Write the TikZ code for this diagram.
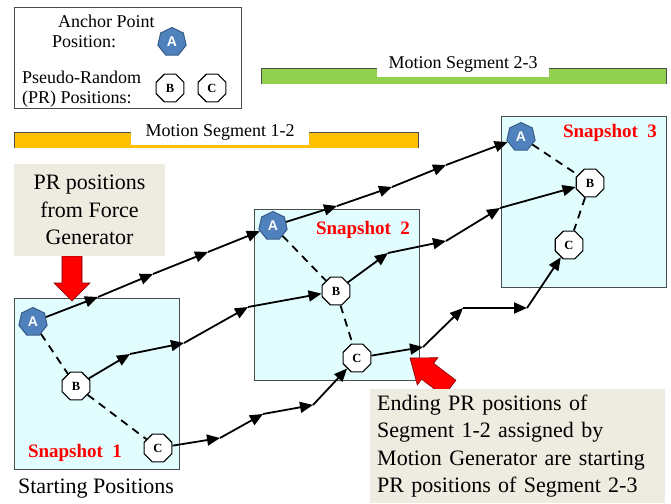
\documentclass[tikz,border=0pt]{standalone}
\usepackage{fontspec}
\setmainfont{Liberation Serif}
\setsansfont{Liberation Sans}
\definecolor{anchorblue}{HTML}{4F81BD}
\definecolor{anchorline}{HTML}{385D8A}
\definecolor{snapfill}{HTML}{E1FDFD}
\definecolor{calloutfill}{HTML}{EEECE1}
\definecolor{segorange}{HTML}{FFC000}
\definecolor{seggreen}{HTML}{92D050}
\definecolor{blockred}{HTML}{FF0000}
\usetikzlibrary{shapes.geometric, arrows.meta, positioning}
\tikzset{
	anchornode/.style={
			regular polygon,
			regular polygon sides=7,
			draw=anchorline,
			fill=anchorblue,
			line width=1pt,
			minimum size=29pt,
			inner sep=0pt,
			text=white,
			font=\fontsize{14}{14}\sffamily\bfseries
		},
	prnode/.style={
			regular polygon,
			regular polygon sides=8,
			draw=black,
			fill=white,
			line width=1.2pt,
			minimum size=30pt,
			inner sep=0pt,
			font=\fontsize{12.5}{12.5}\selectfont\bfseries
		},
	snapbox/.style={
			shape=rectangle,
			draw=black!70,
			fill=snapfill,
			line width=0.8pt,
			minimum width=165pt,
			minimum height=171pt,
			inner sep=0pt
		},
	calloutbox/.style={
			shape=rectangle,
			fill=calloutfill,
			inner sep=0pt,
			font=\fontsize{22}{27.5}\selectfont
		}
}
\tikzset{
	flow/.style={line width=1.8pt, -{Triangle[length=13pt,width=11pt]}},
	link/.style={line width=1.8pt, dash pattern=on 8pt off 6pt},
	snaplabel/.style={text=blockred, font=\fontsize{19}{19}\selectfont\bfseries},
	legendtext/.style={anchor=base west, inner sep=0pt, font=\fontsize{18}{20}\selectfont},
	seglabel/.style={fill=white, inner sep=0pt, minimum height=26pt, font=\fontsize{18}{18}\selectfont},
	redarrow/.style={fill=blockred, draw=red!50!black, line width=0.6pt}
}

\begin{document}
\begin{tikzpicture}[x=1pt, y=-1pt]
  \useasboundingbox (0,0) rectangle (671,503);

  % legend
  \node[draw=black!70, line width=0.8pt, minimum width=227pt, minimum height=101pt] (legend) at (127.5,57.5) {};
  \node[legendtext] (legA1) at (58,28) {Anchor Point};
  \node[legendtext] (legA2) at (52,48) {Position:};
  \node[legendtext] (legP1) at (22,83) {Pseudo-Random};
  \node[legendtext] (legP2) at (22,103) {(PR) Positions:};
  \node[anchornode] (legA) at (172,42) {A};
  \node[prnode] (legB) at (170,88) {B};
  \node[prnode] (legC) at (212,88) {C};

  % motion segments
  \fill[seggreen] (261,68) rectangle (666,84);
  \draw[black!70, line width=0.8pt] (261,84) -- (261,68) -- (666,68) -- (666,84);
  \node[seglabel, minimum width=172pt] (seg23) at (463,64) {Motion Segment 2-3};
  \fill[segorange] (14,132) rectangle (418,148);
  \draw[black!70, line width=0.8pt] (14,148) -- (14,132) -- (418,132) -- (418,148);
  \node[seglabel, minimum width=178pt] (seg12) at (220,132) {Motion Segment 1-2};

  % snapshots
  \node[snapbox] (snap1) at (96.5,383.5) {};
  \node[snapbox] (snap2) at (336.5,294.5) {};
  \node[snapbox] (snap3) at (583.5,201.5) {};
  \node[snaplabel] (lab1) at (75,453) {Snapshot~~1};
  \node[snaplabel] (lab2) at (363,230) {Snapshot~~2};
  \node[snaplabel] (lab3) at (610,133) {Snapshot~~3};

  \node[anchornode] (A1) at (33,322) {A};
  \node[prnode] (B1) at (76,386) {B};
  \node[prnode] (C1) at (158,448) {C};
  \node[anchornode] (A2) at (273,226) {A};
  \node[prnode] (B2) at (336,291) {B};
  \node[prnode] (C2) at (357,358) {C};
  \node[anchornode] (A3) at (521,137) {A};
  \node[prnode] (B3) at (590,183) {B};
  \node[prnode] (C3) at (569,245) {C};

  \draw[link] (A1) -- (B1) -- (C1);
  \draw[link] (A2) -- (B2) -- (C2);
  \draw[link] (A3) -- (B3) -- (C3);

  % anchor path
  \coordinate (pa1) at (98,297);
  \coordinate (pa2) at (153,274);
  \coordinate (pa3) at (208,252);
  \coordinate (pa4) at (337,206);
  \coordinate (pa5) at (392,187);
  \coordinate (pa6) at (446,165);
  \draw[flow] (A1) -- (pa1);
  \draw[flow] (pa1) -- (pa2);
  \draw[flow] (pa2) -- (pa3);
  \draw[flow] (pa3) -- (A2);
  \draw[flow] (A2) -- (pa4);
  \draw[flow] (pa4) -- (pa5);
  \draw[flow] (pa5) -- (pa6);
  \draw[flow] (pa6) -- (A3);

  % B path
  \coordinate (pb1) at (130,354);
  \coordinate (pb2) at (184,343);
  \coordinate (pb3) at (248,307);
  \coordinate (pb4) at (388,253);
  \coordinate (pb5) at (446,241);
  \coordinate (pb6) at (500,208);
  \draw[flow] (B1) -- (pb1);
  \draw[flow] (pb1) -- (pb2);
  \draw[flow] (pb2) -- (pb3);
  \draw[flow] (pb3) -- (B2);
  \draw[flow] (B2) -- (pb4);
  \draw[flow] (pb4) -- (pb5);
  \draw[flow] (pb5) -- (pb6);
  \draw[flow] (pb6) -- (B3);

  % C path
  \coordinate (pc1) at (220,438);
  \coordinate (pc2) at (263,414);
  \coordinate (pc3) at (313,405);
  \coordinate (pc4) at (423,347);
  \coordinate (pc5) at (463,308);
  \coordinate (pc6) at (527,308);
  \draw[flow] (C1) -- (pc1);
  \draw[flow] (pc1) -- (pc2);
  \draw[flow] (pc2) -- (pc3);
  \draw[flow] (pc3) -- (C2);
  \draw[flow] (C2) -- (pc4);
  \draw[flow] (pc4) -- (pc5);
  \draw[flow] (pc5) -- (pc6);
  \draw[flow] (pc6) -- (C3);

  % red block arrows
  \draw[redarrow] (62,256) -- (82,256) -- (82,283) -- (90,283) -- (72,301) -- (54,283) -- (62,283) -- cycle;
  \draw[redarrow] (410,358) -- (437.9,357.7) -- (433.6,363.3) -- (455.9,380.2) -- (443.9,396.2) -- (421.6,379.3) -- (417.3,384.9) -- cycle;

  % callouts
  \node[calloutbox, minimum width=151pt, minimum height=92pt, align=center] (forcebox) at (89.5,210) {PR positions\\from Force\\Generator};
  \node[calloutbox, minimum width=295pt, minimum height=114pt, anchor=north west, align=left, text width=281pt] (genbox) at (370,389) {Ending PR positions of\\Segment 1-2 assigned by\\Motion Generator are starting\\PR positions of Segment 2-3};

  \node[font=\fontsize{22}{22}\selectfont] (start) at (96,489) {Starting Positions};

\end{tikzpicture}
\end{document}
